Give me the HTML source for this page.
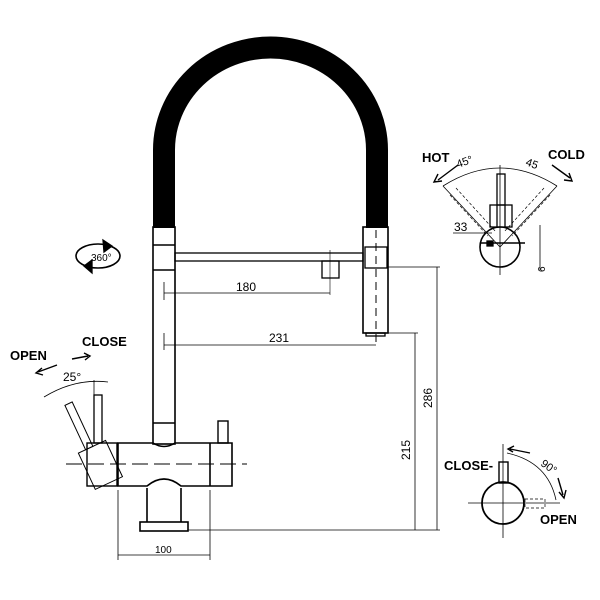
<!DOCTYPE html>
<html><head><style>
body{margin:0;background:#fff}
svg{display:block}
text{font-family:"Liberation Sans",sans-serif;fill:#000}
.b{font-weight:bold;font-size:13px}
.n{font-size:12px}
</style></head><body>
<svg width="600" height="600" viewBox="0 0 600 600" fill="none" stroke="#000" stroke-width="1.3">
<!-- hose -->
<path d="M164,228 V150 A106,102 0 0 1 377,150 V228" stroke-width="22"/>
<!-- left column -->
<rect x="153" y="227" width="22" height="217" stroke-width="1.6"/>
<line x1="153" y1="245" x2="175" y2="245" stroke-width="1.6"/>
<line x1="153" y1="270" x2="175" y2="270" stroke-width="1.6"/>
<line x1="153" y1="423" x2="175" y2="423" stroke-width="1.6"/>
<!-- spout bar -->
<rect x="175" y="253" width="188" height="8"/>
<rect x="322" y="261" width="17" height="17"/>
<line x1="330" y1="250" x2="330" y2="295" stroke-width="0.6"/>
<!-- spray head -->
<rect x="363" y="227" width="25" height="106" stroke-width="1.6"/>
<rect x="365" y="247" width="22" height="21"/>
<line x1="376" y1="230" x2="376" y2="345" stroke-dasharray="8,5" stroke-width="1"/>
<rect x="366" y="333" width="19" height="3"/>
<!-- dims 180/231 -->
<line x1="164" y1="282" x2="164" y2="300" stroke-width="0.8"/>
<line x1="164" y1="293" x2="330" y2="293" stroke-width="0.8"/>
<line x1="164" y1="333" x2="164" y2="350" stroke-width="0.8"/>
<line x1="164" y1="345" x2="376" y2="345" stroke-width="0.8"/>
<text x="236" y="291" class="n" stroke="none">180</text>
<text x="269" y="342" class="n" stroke="none">231</text>
<!-- body -->
<path d="M118,443 H153 Q164,450 175,443 H232 V486 H181 Q164,472 147,486 H118 Z" stroke-width="1.6"/>
<line x1="210" y1="443" x2="210" y2="486" stroke-width="1.6"/>
<rect x="218" y="421" width="10" height="22" stroke-width="1.4"/>
<rect x="147" y="486" width="34" height="36" stroke="none"/>
<line x1="147" y1="488" x2="147" y2="522" stroke-width="1.6"/>
<line x1="181" y1="488" x2="181" y2="522" stroke-width="1.6"/>
<rect x="140" y="522" width="48" height="9" stroke-width="1.6"/>
<line x1="66" y1="464" x2="247" y2="464" stroke-dasharray="16,6" stroke-width="0.9"/>
<!-- lever -->
<rect x="87" y="443" width="30" height="43" stroke-width="1.4"/>
<rect x="94" y="395" width="8" height="48" stroke-width="1.3"/>
<g transform="rotate(-25 100 464)">
<rect x="85" y="445" width="30" height="40" stroke-width="1"/>
<rect x="93" y="396" width="8" height="49" stroke-width="1"/>
</g>
<path d="M44,397 Q75,378 108,382" stroke-width="0.8"/>
<line x1="94" y1="380" x2="94" y2="395" stroke-width="0.8"/>
<text x="63" y="381" class="n" stroke="none">25°</text>
<text x="82" y="346" class="b" stroke="none">CLOSE</text>
<text x="10" y="360" class="b" stroke="none">OPEN</text>
<path d="M72,359 L88,356 M84,353 L90,356 L85,360" stroke-width="1.4"/>
<path d="M57,365 L38,372 M42,368 L36,373 L43,375" stroke-width="1.4"/>
<!-- 360 -->
<ellipse cx="98" cy="256" rx="22" ry="12" stroke-width="1.6"/>
<path d="M103,240 L112,246 L104,252 Z" fill="#000"/>
<path d="M92,260 L84,266 L92,273 Z" fill="#000"/>
<text x="91" y="261" font-size="10" stroke="none">360°</text>
<!-- 100 dim -->
<line x1="118" y1="490" x2="118" y2="560" stroke-width="0.8"/>
<line x1="210" y1="490" x2="210" y2="560" stroke-width="0.8"/>
<line x1="118" y1="555" x2="210" y2="555" stroke-width="0.8"/>
<text x="155" y="553" font-size="10" stroke="none">100</text>
<!-- vertical dims -->
<line x1="188" y1="530" x2="440" y2="530" stroke-width="0.8"/>
<line x1="388" y1="267" x2="440" y2="267" stroke-width="0.8"/>
<line x1="388" y1="333" x2="418" y2="333" stroke-width="0.8"/>
<line x1="415" y1="333" x2="415" y2="530" stroke-width="0.8"/>
<line x1="437" y1="267" x2="437" y2="530" stroke-width="0.8"/>
<text transform="translate(410,460) rotate(-90)" class="n" stroke="none">215</text>
<text transform="translate(432,408) rotate(-90)" class="n" stroke="none">286</text>
<!-- top right view -->
<circle cx="500" cy="247" r="20" stroke-width="1.6"/>
<rect x="497" y="174" width="8" height="31" stroke-width="1.3"/>
<rect x="490" y="205" width="22" height="22" stroke-width="1.3"/>
<line x1="497" y1="205" x2="497" y2="227"/><line x1="505" y1="205" x2="505" y2="227"/>
<line x1="500" y1="165" x2="500" y2="275" stroke-width="0.8"/>
<path d="M443,186 Q500,150 557,186" stroke-width="0.8"/>
<line x1="443" y1="186" x2="500" y2="247" stroke-width="0.8"/>
<line x1="557" y1="186" x2="500" y2="247" stroke-width="0.8"/>
<g stroke-dasharray="3,2" stroke-width="0.7"><line x1="450" y1="195" x2="488" y2="236"/><line x1="550" y1="195" x2="512" y2="236"/><line x1="456" y1="188" x2="496" y2="232"/><line x1="544" y1="188" x2="504" y2="232"/></g>
<rect x="487" y="241" width="6" height="5" fill="#000"/>
<line x1="480" y1="243" x2="525" y2="243" stroke-width="1.4"/>
<line x1="453" y1="233" x2="492" y2="233" stroke-width="0.8"/>
<line x1="540" y1="225" x2="540" y2="270" stroke-width="0.8"/>
<text x="454" y="231" class="n" stroke="none">33</text>
<text transform="translate(545,272) rotate(-90)" font-size="10" stroke="none">6</text>
<text x="422" y="162" class="b" stroke="none">HOT</text>
<text x="548" y="159" class="b" stroke="none">COLD</text>
<text x="458" y="168" font-size="11" stroke="none" transform="rotate(-20 458 168)">45°</text>
<text x="525" y="165" font-size="11" stroke="none" transform="rotate(20 525 165)">45</text>
<path d="M458,165 L438,180 M438,174 L434,182 L442,181" stroke-width="1.4"/>
<path d="M552,165 L570,178 M564,180 L572,181 L569,173" stroke-width="1.4"/>
<!-- bottom right view -->
<circle cx="503" cy="503" r="21" stroke-width="1.8"/>
<rect x="499" y="462" width="9" height="21" stroke-width="1.4"/>
<line x1="503" y1="444" x2="503" y2="538" stroke-width="0.8"/>
<line x1="468" y1="503" x2="560" y2="503" stroke-width="0.8"/>
<rect x="525" y="499" width="20" height="9" stroke-dasharray="3,2" stroke-width="0.7"/>
<path d="M507,453 Q548,462 556,500" stroke-width="0.8"/>
<text x="444" y="470" class="b" stroke="none">CLOSE-</text>
<text x="540" y="524" class="b" stroke="none">OPEN</text>
<text x="540" y="465" font-size="11" stroke="none" transform="rotate(35 540 465)">90°</text>
<path d="M530,453 L510,449 M514,446 L508,449 L513,452" stroke-width="1.4"/>
<path d="M558,478 L563,495 M559,492 L564,498 L566,490" stroke-width="1.4"/>
</svg>
</body></html>
